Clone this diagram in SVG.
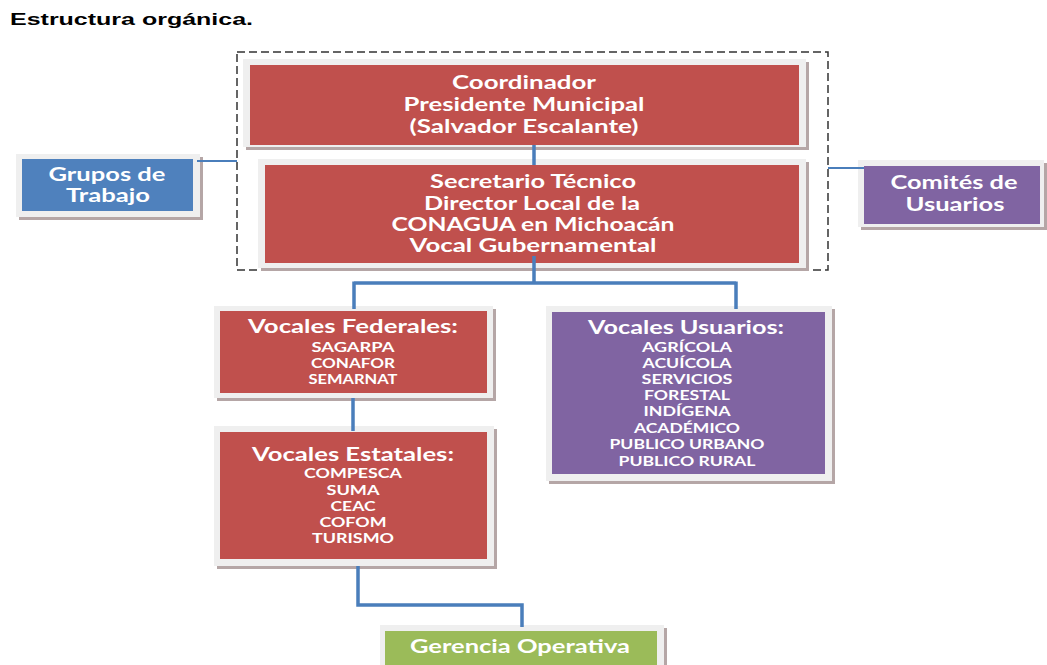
<svg xmlns="http://www.w3.org/2000/svg" width="1047" height="665" viewBox="0 0 1047 665">
<style>
.sh{fill:#B5A6A6}
.fr{fill:#EFEFEF}
.red{fill:#C0504D}
.blue{fill:#4F81BD}
.pur{fill:#8064A2}
.grn{fill:#9BBB59}
.t{font-family:Lato,"Open Sans","Liberation Sans",sans-serif;font-weight:700;fill:#FFFFFF;text-anchor:middle}
.h{font-size:18px}
.s{font-size:12.5px}
.c{fill:none;stroke:#4A7EBB;stroke-width:3.5}
.c2{fill:none;stroke:#4A7EBB;stroke-width:2}
</style>
<rect width="1047" height="665" fill="#FFFFFF"/>
<text x="10" y="25" font-family="Liberation Sans, Arial, sans-serif" font-weight="700" font-size="17" fill="#000" textLength="243" lengthAdjust="spacingAndGlyphs">Estructura orgánica.</text>
<rect x="237" y="52" width="591" height="218" fill="none" stroke="#333" stroke-width="1.5" stroke-dasharray="8,4"/>

<g id="coordinador">
<rect class="sh" x="246" y="62" width="563" height="88"/>
<rect class="fr" x="243" y="59" width="563" height="88"/>
<rect class="red" x="250" y="65" width="549" height="80"/>
<text class="t h" x="524" y="89" textLength="144" lengthAdjust="spacingAndGlyphs">Coordinador</text>
<text class="t h" x="524" y="111" textLength="241" lengthAdjust="spacingAndGlyphs">Presidente Municipal</text>
<text class="t h" x="524" y="133" textLength="229" lengthAdjust="spacingAndGlyphs">(Salvador Escalante)</text>
</g>

<g id="secretario">
<rect class="sh" x="261" y="162" width="548" height="109"/>
<rect class="fr" x="258" y="159" width="548" height="109"/>
<rect class="red" x="265" y="165" width="534" height="98"/>
<text class="t h" x="533" y="188" textLength="206" lengthAdjust="spacingAndGlyphs">Secretario Técnico</text>
<text class="t h" x="532" y="210" textLength="216" lengthAdjust="spacingAndGlyphs">Director Local de la</text>
<text class="t h" x="533" y="231" textLength="283" lengthAdjust="spacingAndGlyphs">CONAGUA en Michoacán</text>
<text class="t h" x="533" y="252" textLength="247" lengthAdjust="spacingAndGlyphs">Vocal Gubernamental</text>
</g>

<g id="grupos">
<rect class="sh" x="19" y="157" width="184" height="63"/>
<rect class="fr" x="16" y="154" width="184" height="63"/>
<rect class="blue" x="22" y="159" width="171" height="52"/>
<text class="t h" x="107" y="181" textLength="117" lengthAdjust="spacingAndGlyphs">Grupos de</text>
<text class="t h" x="108" y="202" textLength="84" lengthAdjust="spacingAndGlyphs">Trabajo</text>
</g>

<g id="comites">
<rect class="sh" x="861" y="163" width="186" height="67"/>
<rect class="fr" x="858" y="160" width="186" height="67"/>
<rect class="pur" x="864" y="166" width="176" height="58"/>
<text class="t h" x="954" y="189" textLength="127" lengthAdjust="spacingAndGlyphs">Comités de</text>
<text class="t h" x="955" y="211" textLength="99" lengthAdjust="spacingAndGlyphs">Usuarios</text>
</g>

<g id="federales">
<rect class="sh" x="217" y="309" width="279" height="92"/>
<rect class="fr" x="214" y="306" width="279" height="92"/>
<rect class="red" x="220" y="311" width="267" height="82"/>
<text class="t h" x="353" y="333" textLength="210" lengthAdjust="spacingAndGlyphs">Vocales Federales:</text>
<text class="t s" x="353" y="352" textLength="83" lengthAdjust="spacingAndGlyphs">SAGARPA</text>
<text class="t s" x="353" y="368" textLength="84" lengthAdjust="spacingAndGlyphs">CONAFOR</text>
<text class="t s" x="353" y="384" textLength="89" lengthAdjust="spacingAndGlyphs">SEMARNAT</text>
</g>

<g id="usuarios">
<rect class="sh" x="549" y="309" width="286" height="175"/>
<rect class="fr" x="546" y="306" width="286" height="175"/>
<rect class="pur" x="552" y="312" width="273" height="162"/>
<text class="t h" x="686" y="334" textLength="196" lengthAdjust="spacingAndGlyphs">Vocales Usuarios:</text>
<text class="t s" x="687" y="352" textLength="90" lengthAdjust="spacingAndGlyphs">AGRÍCOLA</text>
<text class="t s" x="687" y="368" textLength="89" lengthAdjust="spacingAndGlyphs">ACUÍCOLA</text>
<text class="t s" x="687" y="384" textLength="91" lengthAdjust="spacingAndGlyphs">SERVICIOS</text>
<text class="t s" x="687" y="400" textLength="86" lengthAdjust="spacingAndGlyphs">FORESTAL</text>
<text class="t s" x="687" y="416" textLength="87" lengthAdjust="spacingAndGlyphs">INDÍGENA</text>
<text class="t s" x="687" y="433" textLength="106" lengthAdjust="spacingAndGlyphs">ACADÉMICO</text>
<text class="t s" x="687" y="449" textLength="155" lengthAdjust="spacingAndGlyphs">PUBLICO URBANO</text>
<text class="t s" x="687" y="466" textLength="137" lengthAdjust="spacingAndGlyphs">PUBLICO RURAL</text>
</g>

<g id="estatales">
<rect class="sh" x="217" y="429" width="280" height="140"/>
<rect class="fr" x="214" y="426" width="280" height="140"/>
<rect class="red" x="220" y="432" width="267" height="127"/>
<text class="t h" x="353" y="461" textLength="202" lengthAdjust="spacingAndGlyphs">Vocales Estatales:</text>
<text class="t s" x="353" y="478" textLength="98" lengthAdjust="spacingAndGlyphs">COMPESCA</text>
<text class="t s" x="353" y="495" textLength="53" lengthAdjust="spacingAndGlyphs">SUMA</text>
<text class="t s" x="353" y="511" textLength="45" lengthAdjust="spacingAndGlyphs">CEAC</text>
<text class="t s" x="353" y="527" textLength="67" lengthAdjust="spacingAndGlyphs">COFOM</text>
<text class="t s" x="353" y="543" textLength="82" lengthAdjust="spacingAndGlyphs">TURISMO</text>
</g>

<g id="gerencia">
<rect class="sh" x="383" y="628" width="284" height="45"/>
<rect class="fr" x="380" y="625" width="284" height="45"/>
<rect class="grn" x="385" y="631" width="272" height="40"/>
<text class="t h" x="520" y="653" textLength="220" lengthAdjust="spacingAndGlyphs">Gerencia Operativa</text>
</g>

<g id="connectors">
<path class="c" d="M534 145 V165"/>
<path class="c" d="M534 256 V283 M354 283 H736 M354 281.5 V309 M736 281.5 V309"/>
<path class="c" d="M353 398 V431"/>
<path class="c" d="M358 566 V605 H522 V627"/>
<path class="c2" d="M197 161 H237"/>
<path class="c2" d="M828 168 H864"/>
</g>
</svg>
